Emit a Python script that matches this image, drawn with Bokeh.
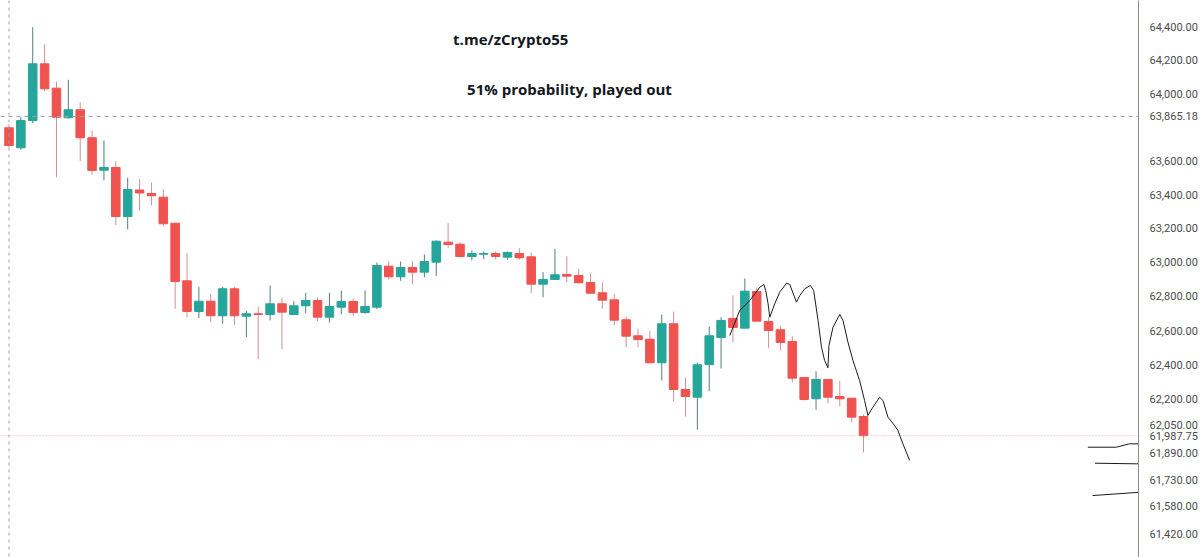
from bokeh.plotting import figure
from bokeh.models import (ColumnDataSource, Range1d, FixedTicker, NumeralTickFormatter,
                          Span, Label)
from bokeh.embed import file_html
from bokeh.resources import INLINE

# ---- data ----
opens = [63797.6, 63678.3, 63841.0, 64180.0, 64034.0, 63857.2, 63905.0, 63738.0, 63545.3, 63561.3,
         63270.8, 63427.7, 63406.9, 63385.0, 63231.2, 62891.7, 62711.5, 62771.8, 62686.4, 62844.7,
         62684.0, 62698.1, 62694.0, 62756.6, 62694.0, 62744.9, 62775.9, 62678.2, 62736.7, 62770.1,
         62705.7, 62736.7, 62977.6, 62915.3, 62969.9, 62942.3, 63001.1, 63119.0, 63107.1, 63034.6,
         63048.1, 63052.3, 63030.5, 63052.3, 63032.9, 62871.7, 62899.4, 62928.8, 62922.9, 62881.8,
         62821.2, 62780.0, 62663.0, 62569.3, 62549.4, 62411.6, 62639.6, 62256.0, 62211.1, 62401.7,
         62559.4, 62670.6, 62613.8, 62828.8, 62653.0, 62604.4, 62536.0, 62325.9, 62201.8, 62314.3,
         62215.2, 62205.3, 62099.1]
closes = [63692.0, 63841.1, 64180.1, 64030.4, 63860.8, 63905.0, 63738.0, 63543.5, 63561.3, 63270.8,
          63430.7, 63409.9, 63393.3, 63227.7, 62887.6, 62711.5, 62771.8, 62686.4, 62844.7, 62686.4,
          62698.1, 62694.0, 62756.6, 62707.4, 62744.9, 62775.9, 62678.2, 62740.8, 62770.1, 62705.7,
          62740.8, 62981.7, 62915.3, 62969.9, 62942.3, 63005.2, 63124.9, 63105.4, 63034.6, 63052.3,
          63052.3, 63034.6, 63058.1, 63027.0, 62871.7, 62899.4, 62927.0, 62918.8, 62880.0, 62818.8,
          62777.7, 62660.6, 62567.0, 62547.7, 62411.6, 62639.6, 62256.0, 62215.2, 62400.0, 62569.3,
          62658.9, 62617.9, 62830.6, 62654.8, 62600.3, 62530.1, 62321.9, 62197.7, 62314.3, 62211.1,
          62201.8, 62095.1, 61987.75]
highs = [63817.3, 63860.8, 64400.0, 64295.9, 64074.1, 64084.3, 63950.3, 63781.5, 63721.8, 63598.7,
         63500.1, 63491.8, 63472.2, 63432.5, 63231.2, 63054.0, 62856.4, 62815.3, 62856.4, 62856.4,
         62715.6, 62740.8, 62864.1, 62793.5, 62771.8, 62821.2, 62793.5, 62821.2, 62834.7, 62787.7,
         62834.7, 62999.3, 63007.0, 63005.2, 63005.2, 63046.4, 63129.0, 63231.2, 63119.0, 63069.9,
         63064.0, 63064.0, 63064.0, 63083.5, 63056.4, 62942.3, 63080.0, 63036.4, 62962.3, 62936.4,
         62881.8, 62815.3, 62682.3, 62610.3, 62598.6, 62694.0, 62711.5, 62324.2, 62411.6, 62623.7,
         62678.2, 62805.3, 62905.3, 62850.6, 62678.2, 62627.8, 62567.0, 62326.0, 62362.7, 62314.3,
         62308.5, 62205.3, 62110.7]
lows = [63680.0, 63666.4, 63825.0, 64016.0, 63503.7, 63854.0, 63598.7, 63518.0, 63484.1, 63219.4,
        63194.0, 63306.3, 63335.9, 63211.7, 62727.3, 62678.2, 62672.3, 62651.3, 62639.6, 62633.7,
        62561.1, 62432.6, 62658.9, 62490.9, 62690.0, 62701.6, 62654.8, 62647.2, 62694.0, 62686.4,
        62698.1, 62725.0, 62901.1, 62891.7, 62871.7, 62912.9, 62918.8, 63085.9, 63030.0, 63012.9,
        63018.7, 63018.7, 63015.2, 63015.2, 62818.8, 62795.3, 62897.6, 62883.5, 62875.9, 62813.0,
        62729.1, 62631.4, 62502.6, 62502.6, 62411.6, 62308.5, 62186.1, 62099.1, 62022.0, 62246.1,
        62378.4, 62531.9, 62613.8, 62654.8, 62499.1, 62483.3, 62296.8, 62191.9, 62138.0, 62176.2,
        62157.1, 62066.1, 61892.2]

# price-axis ticks (63,800 is hidden behind the crosshair price in the reference)
tick_values = [61420, 61580, 61730, 61890, 62050, 62200, 62400, 62600, 62800, 63000,
               63200, 63400, 63600, 64000, 64200, 64400]

crosshair_price = 63865.18
last_price = 61987.75

# hand-drawn projection (bar index, price)
sketch_x = [60.73, 61.01, 61.57, 62.42, 63.26, 63.60, 63.76, 63.96, 64.10, 64.52, 64.94, 65.51,
            65.79, 66.35, 66.63, 67.05, 67.52, 67.80, 68.17, 68.46, 68.72, 69.00, 69.09, 69.43,
            70.00, 70.27, 70.69, 71.11, 71.67, 72.09, 72.37, 72.79, 73.36, 73.64, 74.06, 74.62,
            74.90, 75.32, 75.89]
sketch_y = [62571.1, 62619.7, 62717.4, 62775.9, 62854.1, 62870.0, 62834.7, 62756.6, 62678.2,
            62756.6, 62824.7, 62877.7, 62870.0, 62766.0, 62805.3, 62844.7, 62864.1, 62834.7,
            62658.9, 62502.6, 62425.0, 62382.5, 62512.5, 62619.7, 62694.0, 62658.9, 62531.9,
            62425.0, 62308.5, 62191.9, 62104.9, 62153.0, 62211.1, 62191.9, 62095.1, 62046.9,
            62017.9, 61940.8, 61844.1]
mark1_x = [90.9, 93.3, 94.4, 100.3]
mark1_y = [61921.1, 61921.1, 61940.8, 61936.7]
mark2_x = [91.5, 95.0, 100.3]
mark2_y = [61828.5, 61825.0, 61825.0]
mark3_x = [91.3, 95.3, 100.3]
mark3_y = [61641.9, 61661.0, 61666.8]

# ---- build ----
W, H = 1200, 557
AXIS_W = 61
Y_LO, Y_HI = 61286.1, 64560.9

idx = list(range(len(opens)))
UP = "#26a69a"
DOWN = "#ef5350"
up = [i for i in idx if closes[i] >= opens[i]]
dn = [i for i in idx if closes[i] < opens[i]]

def src(ids):
    return ColumnDataSource(dict(
        x=ids,
        top=[max(opens[i], closes[i]) for i in ids],
        bottom=[min(opens[i], closes[i]) for i in ids],
        high=[highs[i] for i in ids],
        low=[lows[i] for i in ids],
    ))

s_up, s_dn = src(up), src(dn)

p = figure(width=W, height=H, output_backend="svg", toolbar_location=None,
           y_axis_type="log", y_axis_location="right",
           x_range=Range1d(-0.716, 95.17), y_range=Range1d(Y_LO, Y_HI),
           min_border_left=0, min_border_top=0, min_border_bottom=0, min_border_right=AXIS_W)
p.outline_line_color = None
p.xaxis.visible = False
p.xgrid.visible = False
p.ygrid.visible = False
p.background_fill_color = "white"

ax = p.yaxis[0]
ax.ticker = FixedTicker(ticks=sorted(tick_values + [crosshair_price, last_price]))
ax.formatter = NumeralTickFormatter(format="0,0.00")
ax.major_tick_line_color = None
ax.minor_tick_line_color = None
ax.major_label_standoff = 5
ax.major_label_text_font = "Roboto"
ax.major_label_text_font_size = "11px"
ax.major_label_text_color = "#4b4b4b"
ax.axis_line_color = "#8c8c8c"

# wicks
p.segment("x", "high", "x", "low", source=s_up, line_color="#4f7f7a", line_width=1)
p.segment("x", "high", "x", "low", source=s_dn, line_color="#cf9191", line_width=1)
# bodies
p.vbar("x", 0.72, "top", "bottom", source=s_up, fill_color=UP, line_color=UP)
p.vbar("x", 0.72, "top", "bottom", source=s_dn, fill_color=DOWN, line_color=DOWN)

# crosshair & last price
p.add_layout(Span(location=crosshair_price, dimension="width", line_color="#a0a0a0",
                  line_dash="4 4", line_width=1))
p.add_layout(Span(location=0, dimension="height", line_color="#a0a0a0",
                  line_dash="3 4", line_width=1))
p.add_layout(Span(location=last_price, dimension="width", line_color="#f19ea4",
                  line_dash="1 2", line_width=1))

# hand-drawn lines
p.line(sketch_x, sketch_y, line_color="#1a1a1a", line_width=1)
for mx, my in ((mark1_x, mark1_y), (mark2_x, mark2_y), (mark3_x, mark3_y)):
    p.line(mx, my, line_color="#1a1a1a", line_width=1)

# texts
p.add_layout(Label(x=37.42, y=64332, text="t.me/zCrypto55", text_font="Open Sans",
                   text_font_style="bold", text_font_size="15px", text_color="#131722",
                   text_baseline="middle", text_align="left"))
p.add_layout(Label(x=38.60, y=64032, text="51% probability, played out", text_font="Open Sans",
                   text_font_style="bold", text_font_size="15px", text_color="#131722",
                   text_baseline="middle", text_align="left"))

open("out.html", "w").write(file_html(p, INLINE))
